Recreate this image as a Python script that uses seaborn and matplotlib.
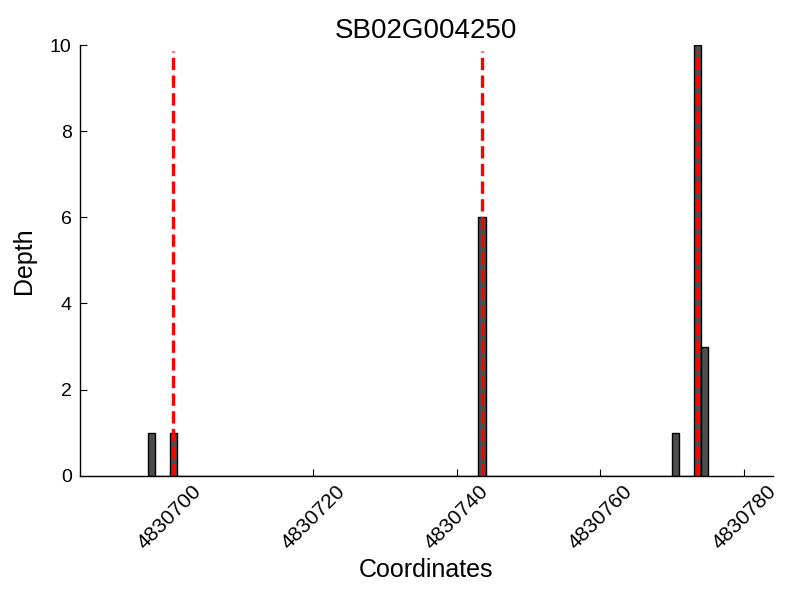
import numpy as np
import pandas as pd
import matplotlib
matplotlib.use('Agg')
import matplotlib.pyplot as plt
import seaborn as sns

# read depth per coordinate
positions = [4830697, 4830700, 4830743, 4830770, 4830773, 4830774]
depths = [1, 1, 6, 1, 10, 3]
# marked sites (red dashed)
sites = [4830700.5, 4830743.5, 4830773.5]
gene = 'SB02G004250'

df = pd.DataFrame({'pos': positions, 'depth': depths})

sns.set_style('white')
plt.rcParams['font.family'] = ['Liberation Sans', 'DejaVu Sans']
plt.rcParams['text.color'] = 'black'
plt.rcParams['axes.labelcolor'] = 'black'

fig, ax = plt.subplots(figsize=(8, 6), dpi=100)
fig.subplots_adjust(left=0.1, right=0.966, top=0.925, bottom=0.207)

sns.histplot(data=df, x='pos', weights='depth', binwidth=1,
             binrange=(min(positions), max(positions) + 1), color='#4d4d4d',
             edgecolor='black', linewidth=1, alpha=1, ax=ax)

ax.vlines(sites, 0, 9.85, colors='red', linestyles='--', linewidth=2.4)

ax.set_xlim(4830687.5, 4830784)
ax.set_ylim(0, 10)
ax.set_xticks([4830700, 4830720, 4830740, 4830760, 4830780])
ax.set_xticklabels(['4830700', '4830720', '4830740', '4830760', '4830780'], rotation=45)
ax.set_yticks([0, 2, 4, 6, 8, 10])
ax.tick_params(direction='in', length=5, labelsize=14, colors='black',
               bottom=True, left=True, pad=6)
ax.tick_params(axis='x', labelsize=15, pad=4)
sns.despine(ax=ax)
for s in ['left', 'bottom']:
    ax.spines[s].set_color('black')
    ax.spines[s].set_linewidth(1)

ax.set_title(gene, fontsize=20, color='black', pad=5)
ax.set_xlabel('Coordinates', fontsize=18)
ax.set_ylabel('Depth', fontsize=18, labelpad=10)

plt.savefig('out.png', dpi=100)
